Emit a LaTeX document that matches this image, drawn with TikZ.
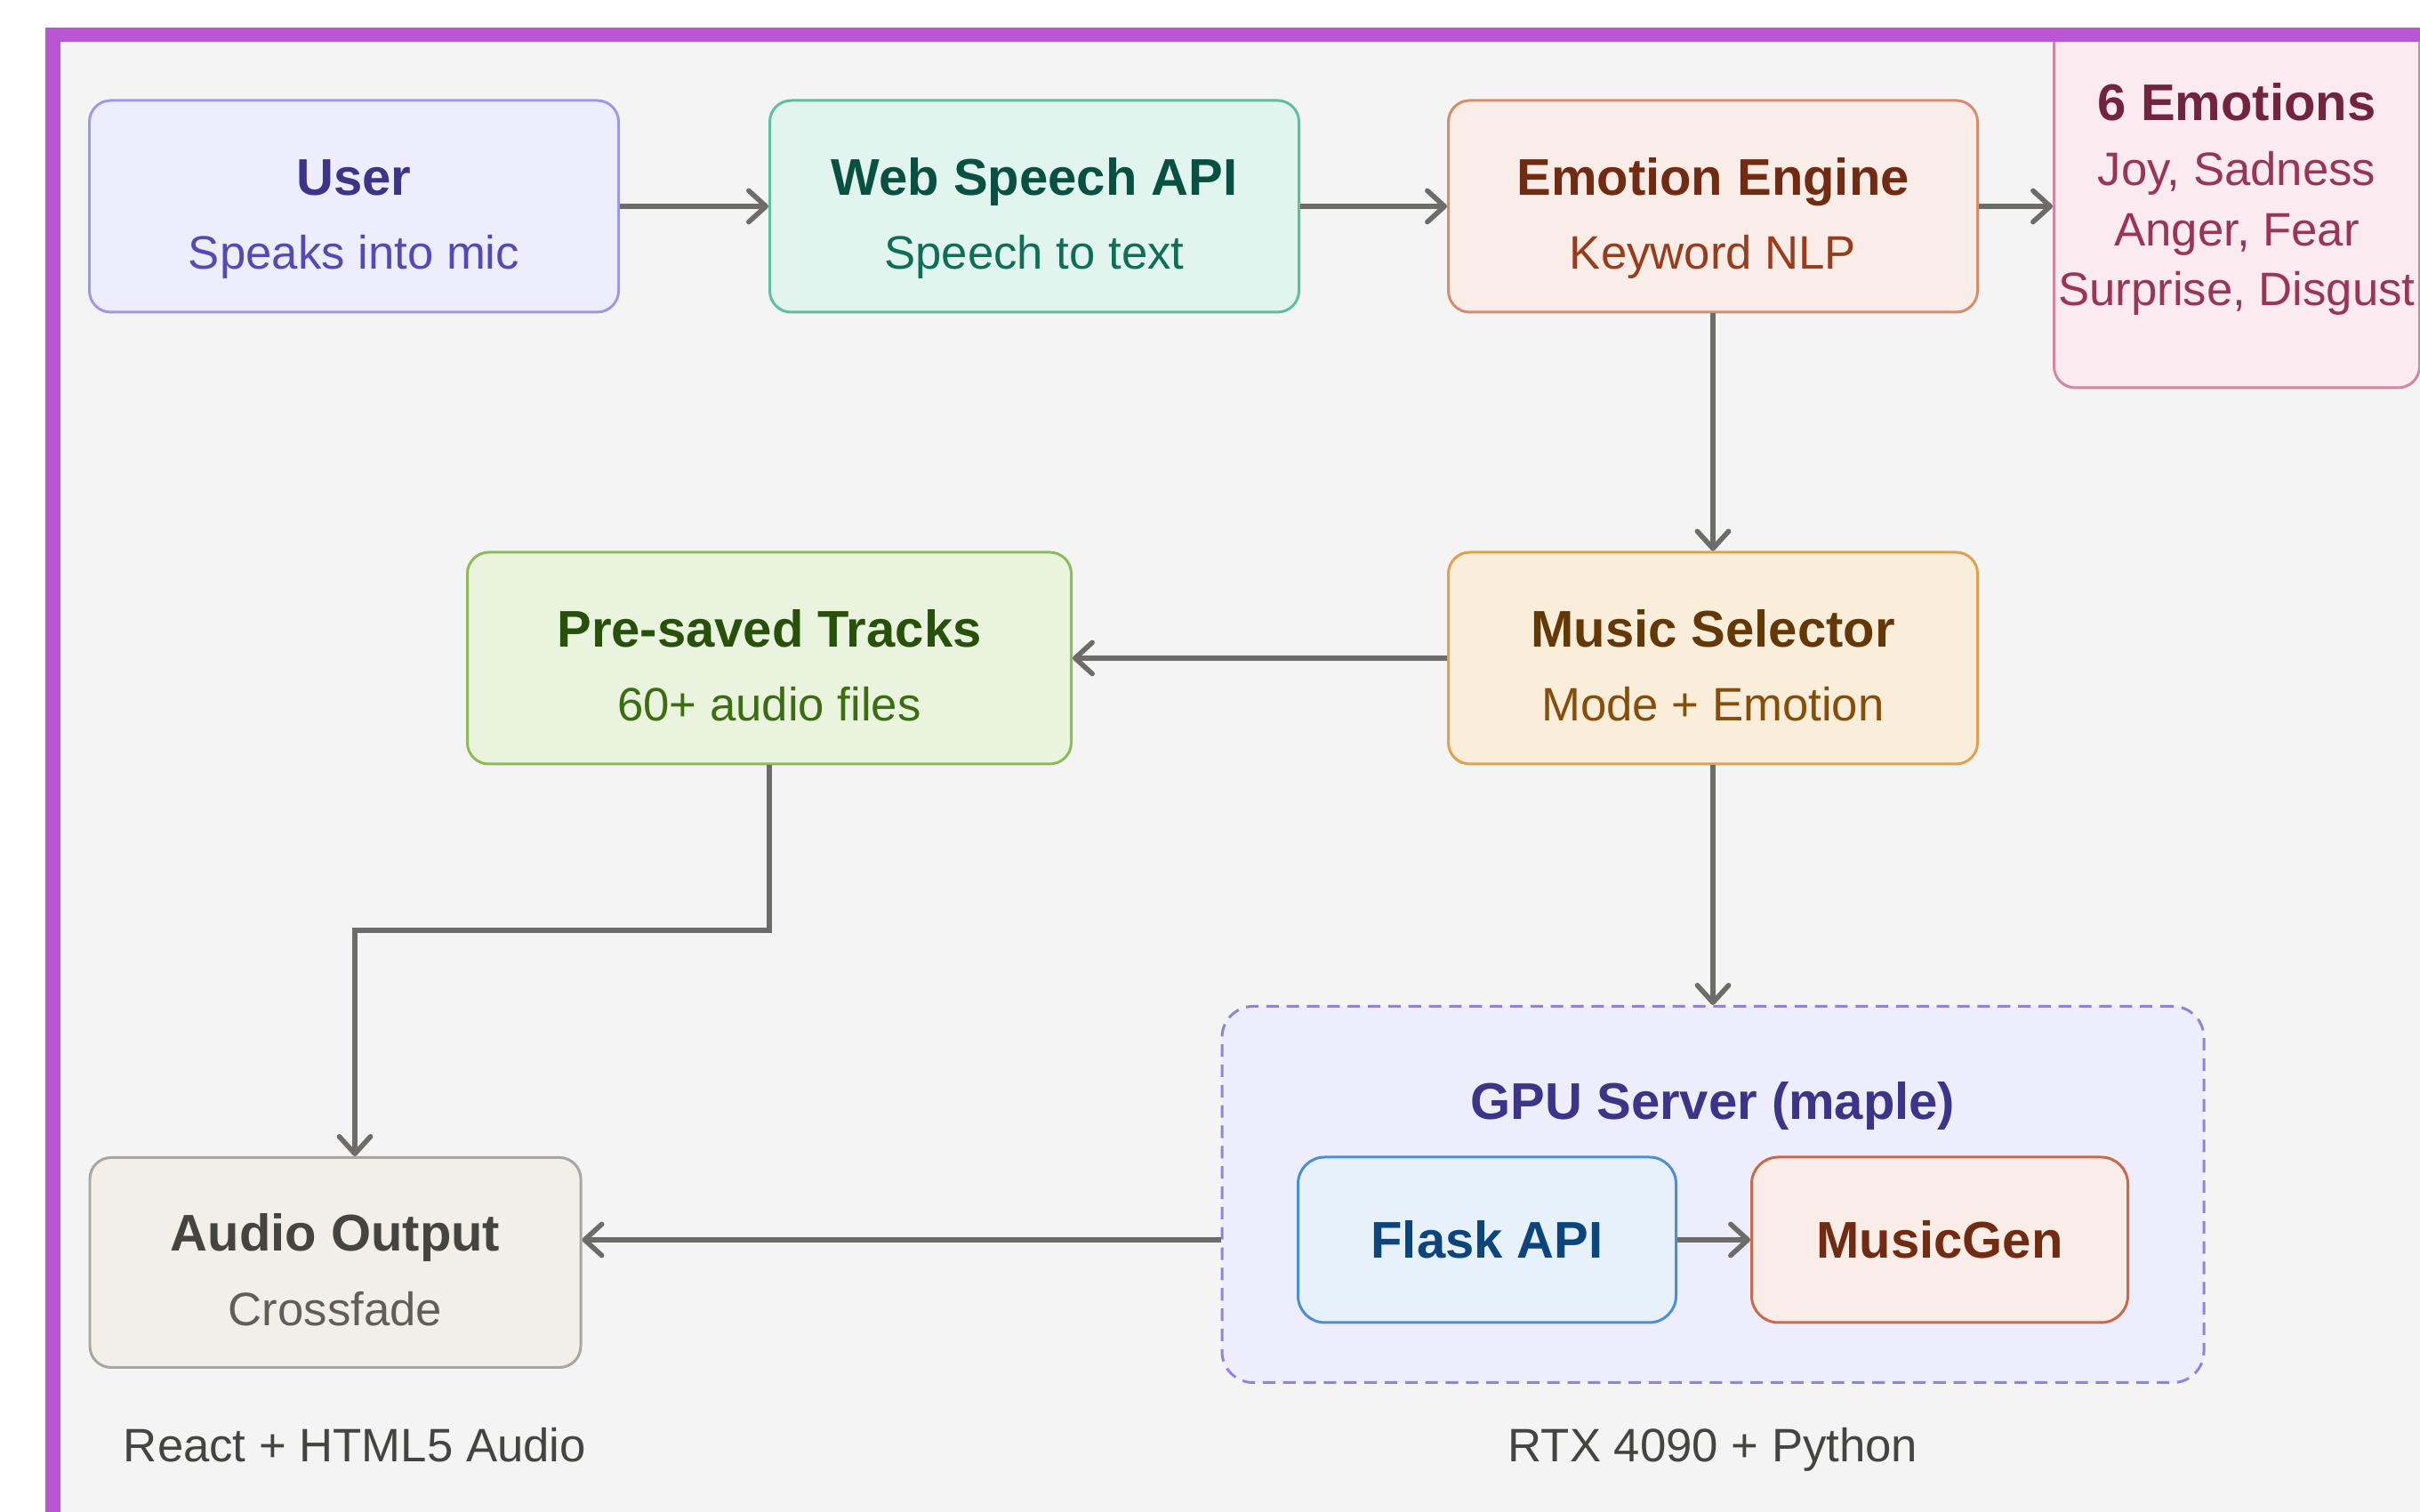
\documentclass[tikz,border=0pt]{standalone}
\usepackage{fontspec}
\setmainfont{Liberation Sans}
\usepackage{xcolor}
\usepackage{tikz}
\usetikzlibrary{arrows.meta}
\definecolor{framepurple}{HTML}{BA55D3}
\definecolor{canvas}{HTML}{F4F4F4}
\definecolor{flowgray}{HTML}{6E6C68}
\definecolor{notegray}{HTML}{444441}
\definecolor{userfill}{HTML}{EEEDFE}
\definecolor{userline}{HTML}{9F98E6}
\definecolor{usertitle}{HTML}{3C3489}
\definecolor{usersub}{HTML}{534AB7}
\definecolor{speechfill}{HTML}{E1F5EE}
\definecolor{speechline}{HTML}{5DBF9B}
\definecolor{speechtitle}{HTML}{085041}
\definecolor{speechsub}{HTML}{0F6E56}
\definecolor{enginefill}{HTML}{FAECE7}
\definecolor{engineline}{HTML}{D98B6E}
\definecolor{enginetitle}{HTML}{712B13}
\definecolor{enginesub}{HTML}{993C1D}
\definecolor{emofill}{HTML}{FBEAF0}
\definecolor{emoline}{HTML}{D4869F}
\definecolor{emotitle}{HTML}{72243E}
\definecolor{emosub}{HTML}{993556}
\definecolor{tracksfill}{HTML}{EAF3DE}
\definecolor{tracksline}{HTML}{8DBB5A}
\definecolor{trackstitle}{HTML}{27500A}
\definecolor{trackssub}{HTML}{3B6D11}
\definecolor{selectorfill}{HTML}{FAEEDA}
\definecolor{selectorline}{HTML}{E0A050}
\definecolor{selectortitle}{HTML}{633806}
\definecolor{selectorsub}{HTML}{854F0B}
\definecolor{gpufill}{HTML}{EEEDFE}
\definecolor{gpuline}{HTML}{8C84DE}
\definecolor{gputitle}{HTML}{3C3489}
\definecolor{flaskfill}{HTML}{E6F1FB}
\definecolor{flaskline}{HTML}{4A8FD6}
\definecolor{flasktext}{HTML}{0C447C}
\definecolor{genfill}{HTML}{FAECE7}
\definecolor{genline}{HTML}{C9694A}
\definecolor{gentext}{HTML}{712B13}
\definecolor{audiofill}{HTML}{F1EFE8}
\definecolor{audioline}{HTML}{A8A6A0}
\definecolor{audiotitle}{HTML}{444441}
\definecolor{audiosub}{HTML}{5F5E5A}
\newcommand{\boxhead}{\bfseries\fontsize{16.5}{23.7}\selectfont}
\newcommand{\boxtext}[3]{\rule{0pt}{20.5pt}\textcolor{#1}{\boxhead #2}\\#3\rule[-4pt]{0pt}{4pt}}

\begin{document}
\begin{tikzpicture}[
  card/.style={rectangle, rounded corners=0.24cm, line width=0.85pt, inner sep=0pt,
    minimum width=5.95cm, minimum height=2.38cm, align=center,
    font=\fontsize{15}{23.7}\selectfont},
  flow/.style={draw=flowgray, line width=1.6pt, -{Straight Barb[length=5.5pt,width=10pt,round]}},
  note/.style={text=notegray, font=\fontsize{15}{18}\selectfont, anchor=base}
]
\useasboundingbox (0,0) rectangle (27.21,17);
% Canvas
\fill[white] (0,0) rectangle (27.21,17);
\fill[canvas] (0.514,0) rectangle (27.21,16.688);

% Top row
\node[card, fill=userfill, draw=userline, text=usersub] (user) at (3.98,14.68)
  {\boxtext{usertitle}{User}{Speaks into mic}};
\node[card, fill=speechfill, draw=speechline, text=speechsub] (speech) at (11.63,14.68)
  {\boxtext{speechtitle}{Web Speech API}{Speech to text}};
\node[card, fill=enginefill, draw=engineline, text=enginesub] (engine) at (19.26,14.68)
  {\boxtext{enginetitle}{Emotion Engine}{Keyword NLP}};
\node[card, fill=emofill, draw=emoline, text=emosub, minimum width=4.11cm, minimum height=4.24cm,
  font=\fontsize{15}{19.3}\selectfont] (emotions) at (25.15,14.76)
  {\textcolor{emotitle}{\boxhead 6 Emotions}\\[1.5pt]Joy, Sadness\\Anger, Fear\\Surprise, Disgust};

% Middle row
\node[card, fill=tracksfill, draw=tracksline, text=trackssub, minimum width=6.79cm] (tracks) at (8.65,9.60)
  {\boxtext{trackstitle}{Pre-saved Tracks}{60+ audio files}};
\node[card, fill=selectorfill, draw=selectorline, text=selectorsub] (selector) at (19.26,9.60)
  {\boxtext{selectortitle}{Music Selector}{Mode + Emotion}};

% GPU server
\node[card, fill=gpufill, draw=gpuline, dash pattern=on 4pt off 2.5pt, rounded corners=0.35cm,
  minimum width=11.04cm, minimum height=4.23cm] (gpu) at (19.26,3.57) {};
\node[text=gputitle, font=\boxhead] (gputitle) at (19.26,4.56) {GPU Server (maple)};
\node[card, fill=flaskfill, draw=flaskline, text=flasktext, rounded corners=0.3cm,
  minimum width=4.25cm, minimum height=1.86cm, font=\boxhead] (flask) at (16.72,3.06) {Flask API};
\node[card, fill=genfill, draw=genline, text=gentext, rounded corners=0.3cm,
  minimum width=4.23cm, minimum height=1.86cm, font=\boxhead] (musicgen) at (21.81,3.06) {MusicGen};

% Output
\node[card, fill=audiofill, draw=audioline, text=audiosub, minimum width=5.52cm, minimum height=2.36cm] (audio) at (3.77,2.805)
  {\boxtext{audiotitle}{Audio Output}{Crossfade}};
\node[note] (reactlbl) at (3.99,0.567) {React + HTML5 Audio};
\node[note] (rtxlbl) at (19.26,0.567) {RTX 4090 + Python};

% Arrows
\coordinate (elbow) at (3.99,6.54);
\draw[flow] (user.east) -- (speech.west);
\draw[flow] (speech.east) -- (engine.west);
\draw[flow] (engine.east) -- (engine.east -| emotions.west);
\draw[flow] (engine.south) -- (selector.north);
\draw[flow] (selector.west) -- (tracks.east);
\draw[flow] (tracks.south) |- (elbow) -- (elbow |- audio.north);
\draw[flow] (selector.south) -- (gpu.north);
\draw[flow] (flask.west -| gpu.west) -- (flask.west -| audio.east);
\draw[flow] (flask.east) -- (musicgen.west);

% Frame
\fill[white] (0,16.688) rectangle (27.21,17);
\fill[framepurple] (0.514,16.526) rectangle (27.21,16.688);
\fill[framepurple] (0.514,0) rectangle (0.679,16.688);
\end{tikzpicture}
\end{document}
